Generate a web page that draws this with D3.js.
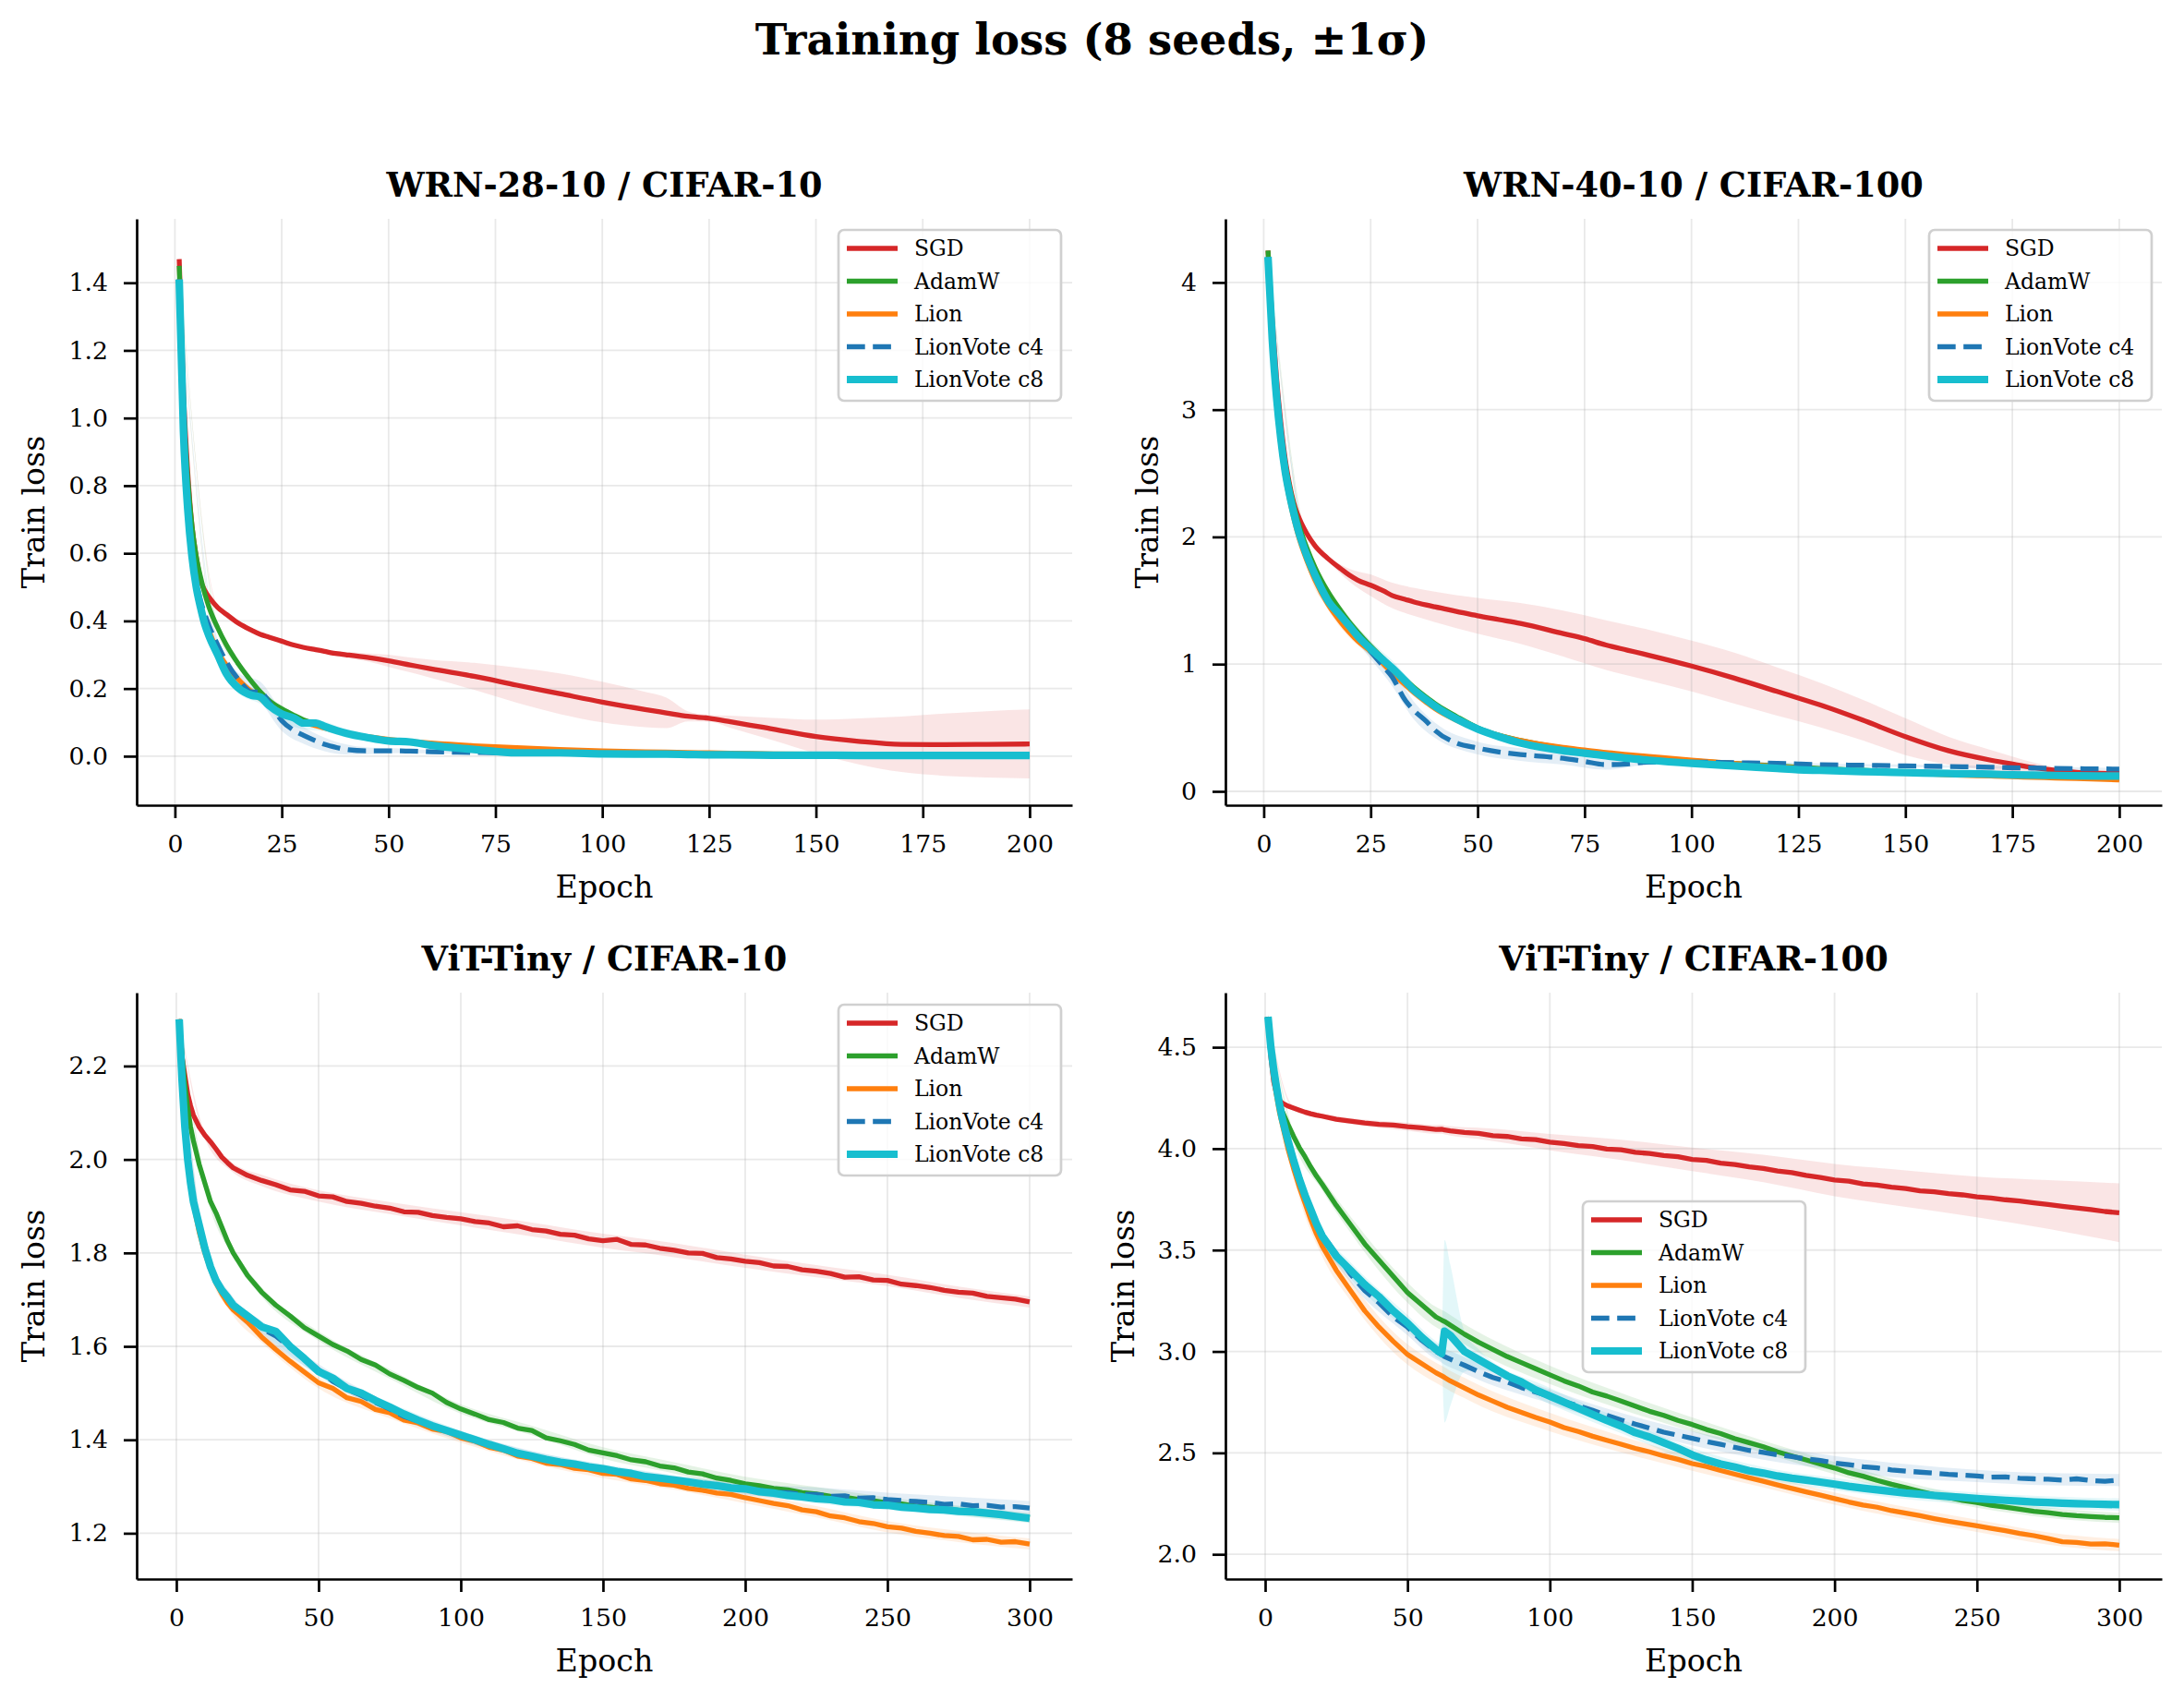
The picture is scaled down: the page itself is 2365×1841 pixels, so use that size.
<!DOCTYPE html>
<html><head><meta charset="utf-8">
<script src="https://cdn.jsdelivr.net/npm/d3@7"></script>
<style>body{margin:0;background:#fff} svg{display:block} text{font-family:"DejaVu Serif",serif;fill:#000}</style>
</head><body>
<svg id="chart" width="2365" height="1841"></svg>
<script>
// ---------------- DATA ----------------
const seriesNames = ["SGD", "AdamW", "Lion", "LionVote c4", "LionVote c8"];
const seriesColors = ["#d62728", "#2ca02c", "#ff7f0e", "#1f77b4", "#17becf"];
const panelTitles = ["WRN-28-10 / CIFAR-10", "WRN-40-10 / CIFAR-100", "ViT-Tiny / CIFAR-10", "ViT-Tiny / CIFAR-100"];
const xTicksWRN = [0, 25, 50, 75, 100, 125, 150, 175, 200];
const xTicksViT = [0, 50, 100, 150, 200, 250, 300];
const yTicksP1 = [0.0, 0.2, 0.4, 0.6, 0.8, 1.0, 1.2, 1.4];
const yTicksP2 = [0, 1, 2, 3, 4];
const yTicksP3 = [1.2, 1.4, 1.6, 1.8, 2.0, 2.2];
const yTicksP4 = [2.0, 2.5, 3.0, 3.5, 4.0, 4.5];

// Panel 1: WRN-28-10 / CIFAR-10
const p1Epochs = [1,2,3,4,5,6,7,8,10,12,15,18,20,22,25,28,30,33,35,38,40,45,50,55,60,70,80,90,100,110,115,120,125,130,140,150,160,170,180,190,200];
const p1SGD   = [1.47,1.08,0.84,0.68,0.59,0.52,0.49,0.47,0.44,0.42,0.392,0.372,0.36,0.352,0.34,0.328,0.322,0.315,0.31,0.303,0.3,0.292,0.282,0.27,0.258,0.236,0.21,0.185,0.16,0.138,0.128,0.118,0.112,0.102,0.08,0.058,0.044,0.035,0.034,0.035,0.036];
const p1AdamW = [1.45,1.04,0.82,0.68,0.59,0.53,0.48,0.44,0.38,0.33,0.27,0.22,0.19,0.165,0.14,0.12,0.108,0.095,0.087,0.077,0.07,0.057,0.047,0.04,0.034,0.025,0.019,0.015,0.012,0.01,0.009,0.008,0.007,0.007,0.006,0.005,0.004,0.004,0.003,0.003,0.003];
const p1Lion  = [1.41,0.97,0.74,0.6,0.51,0.45,0.4,0.37,0.31,0.27,0.225,0.19,0.17,0.152,0.128,0.112,0.1,0.09,0.083,0.074,0.068,0.058,0.05,0.044,0.039,0.031,0.025,0.02,0.016,0.013,0.012,0.011,0.01,0.009,0.007,0.006,0.005,0.004,0.003,0.003,0.002];
const p1C4    = [1.41,0.98,0.75,0.61,0.52,0.46,0.42,0.385,0.33,0.28,0.225,0.19,0.19,0.16,0.105,0.075,0.062,0.045,0.035,0.025,0.02,0.016,0.016,0.015,0.013,0.011,0.009,0.008,0.007,0.006,0.006,0.005,0.005,0.004,0.004,0.003,0.003,0.003,0.002,0.002,0.002];
const p1C8    = [1.41,0.96,0.73,0.59,0.5,0.44,0.39,0.355,0.3,0.245,0.2,0.18,0.175,0.15,0.125,0.112,0.098,0.098,0.088,0.075,0.068,0.055,0.045,0.042,0.032,0.02,0.01,0.01,0.007,0.006,0.006,0.005,0.004,0.004,0.003,0.003,0.002,0.002,0.002,0.002,0.002];
const p1BandEpochs = [1,10,15,20,25,30,35,40,45,50,55,60,70,80,90,100,110,115,120,125,130,140,150,160,170,180,190,200];
const p1SGDStd   = [0.005,0.005,0.005,0.005,0.005,0.005,0.005,0.008,0.012,0.018,0.022,0.027,0.04,0.052,0.06,0.06,0.052,0.045,0.015,0.01,0.018,0.033,0.05,0.068,0.082,0.092,0.098,0.102];
const p1AdamWStd = [0.005,0.01,0.01,0.01,0.01,0.008,0.006,0.005,0.004,0.004,0.003,0.003,0.003,0.002,0.002,0.002,0.002,0.002,0.002,0.002,0.002,0.002,0.002,0.002,0.002,0.002,0.002,0.002];
const p1LionStd  = [0.005,0.01,0.012,0.012,0.01,0.008,0.006,0.005,0.004,0.004,0.003,0.003,0.003,0.002,0.002,0.002,0.002,0.002,0.002,0.002,0.002,0.002,0.002,0.002,0.002,0.002,0.002,0.002];
const p1C4Std    = [0.005,0.015,0.02,0.03,0.03,0.025,0.02,0.015,0.01,0.008,0.006,0.005,0.004,0.003,0.002,0.002,0.002,0.002,0.002,0.002,0.002,0.002,0.002,0.002,0.002,0.002,0.002,0.002];
const p1C8Std    = [0.005,0.012,0.015,0.02,0.02,0.018,0.015,0.012,0.01,0.008,0.006,0.005,0.004,0.003,0.002,0.002,0.002,0.002,0.002,0.002,0.002,0.002,0.002,0.002,0.002,0.002,0.002,0.002];

// Panel 2: WRN-40-10 / CIFAR-100
const p2Epochs = [1,2,3,4,5,6,7,8,10,12,15,18,20,22,25,28,30,33,35,38,40,45,50,55,60,70,75,80,85,90,100,110,120,125,130,140,150,160,170,175,180,185,190,200];
const p2SGD   = [4.25,3.7,3.25,2.9,2.62,2.42,2.27,2.17,2.03,1.93,1.83,1.75,1.7,1.66,1.62,1.575,1.54,1.51,1.49,1.465,1.45,1.415,1.38,1.35,1.32,1.24,1.2,1.15,1.11,1.07,0.985,0.89,0.785,0.733,0.68,0.56,0.43,0.32,0.245,0.215,0.187,0.165,0.15,0.14];
const p2AdamW = [4.25,3.6,3.15,2.82,2.58,2.4,2.25,2.12,1.92,1.76,1.57,1.42,1.33,1.25,1.14,1.04,0.97,0.88,0.82,0.74,0.69,0.59,0.5,0.44,0.4,0.34,0.315,0.295,0.28,0.265,0.24,0.22,0.2,0.19,0.18,0.165,0.15,0.14,0.13,0.125,0.12,0.115,0.11,0.1];
const p2Lion  = [4.2,3.5,3.05,2.72,2.48,2.3,2.15,2.02,1.82,1.66,1.47,1.33,1.25,1.18,1.1,1.0,0.93,0.84,0.78,0.7,0.65,0.56,0.49,0.44,0.4,0.345,0.325,0.305,0.29,0.275,0.245,0.22,0.195,0.185,0.175,0.16,0.145,0.13,0.12,0.115,0.11,0.105,0.1,0.09];
const p2C4    = [4.2,3.55,3.1,2.77,2.52,2.34,2.19,2.06,1.86,1.7,1.5,1.38,1.3,1.22,1.1,0.98,0.9,0.72,0.64,0.55,0.48,0.38,0.34,0.31,0.29,0.26,0.235,0.21,0.215,0.23,0.23,0.225,0.22,0.215,0.21,0.205,0.2,0.195,0.19,0.185,0.183,0.18,0.178,0.175];
const p2C8    = [4.2,3.55,3.1,2.77,2.52,2.34,2.19,2.06,1.86,1.7,1.5,1.38,1.3,1.22,1.12,1.03,0.97,0.87,0.8,0.72,0.67,0.57,0.49,0.43,0.38,0.32,0.3,0.28,0.26,0.245,0.22,0.2,0.18,0.17,0.165,0.155,0.148,0.14,0.135,0.13,0.128,0.125,0.122,0.12];
const p2BandEpochs = [1,10,15,20,25,30,35,40,50,60,70,80,90,100,110,120,130,140,150,160,170,180,190,200];
const p2SGDStd   = [0.01,0.01,0.02,0.05,0.085,0.1,0.11,0.12,0.14,0.16,0.18,0.195,0.2,0.2,0.2,0.19,0.175,0.16,0.145,0.11,0.08,0.04,0.015,0.01];
const p2AdamWStd = [0.01,0.03,0.04,0.04,0.04,0.035,0.03,0.025,0.02,0.015,0.01,0.01,0.01,0.01,0.01,0.01,0.01,0.01,0.01,0.01,0.01,0.01,0.01,0.01];
const p2LionStd  = [0.01,0.03,0.04,0.04,0.04,0.035,0.03,0.025,0.02,0.015,0.01,0.01,0.01,0.01,0.01,0.01,0.01,0.01,0.01,0.01,0.01,0.01,0.01,0.01];
const p2C4Std    = [0.01,0.03,0.04,0.05,0.06,0.07,0.07,0.06,0.05,0.05,0.05,0.04,0.02,0.015,0.01,0.01,0.01,0.01,0.01,0.01,0.01,0.01,0.01,0.01];
const p2C8Std    = [0.01,0.03,0.05,0.06,0.06,0.06,0.05,0.04,0.03,0.02,0.015,0.01,0.01,0.01,0.01,0.01,0.01,0.01,0.01,0.01,0.01,0.01,0.01,0.01];

// Panel 3: ViT-Tiny / CIFAR-10
const p3Epochs = [1,2,3,4,5,6,8,10,12,14,16,18,20,25,30,35,40,45,50,55,60,65,70,75,80,85,90,95,100,105,110,115,120,125,130,135,140,145,150,155,160,165,170,175,180,185,190,195,200,205,210,215,220,225,230,235,240,245,250,255,260,265,270,275,280,285,290,295,300];
const p3SGD   = [2.30,2.22,2.18,2.14,2.115,2.095,2.07,2.052,2.038,2.022,2.005,1.993,1.982,
  1.966,1.955,1.946,1.935,1.932,1.922,1.92,1.91,1.906,1.9,1.896,1.888,1.887,1.88,1.876,1.873,1.867,1.864,1.856,1.858,1.85,1.847,1.84,1.838,1.83,1.826,1.829,1.818,1.817,1.81,1.806,1.8,1.799,1.79,1.787,1.782,1.779,1.772,1.771,1.764,1.761,1.756,1.748,1.749,1.742,1.741,1.733,1.73,1.726,1.72,1.716,1.714,1.707,1.704,1.701,1.695];
const p3AdamW = [2.30,2.22,2.16,2.11,2.07,2.04,1.99,1.95,1.91,1.885,1.855,1.825,1.80,
  1.752,1.716,1.688,1.665,1.64,1.622,1.604,1.59,1.572,1.56,1.541,1.527,1.512,1.5,1.48,1.466,1.455,1.443,1.437,1.425,1.42,1.404,1.398,1.39,1.378,1.372,1.366,1.357,1.353,1.344,1.34,1.331,1.327,1.318,1.313,1.306,1.302,1.296,1.293,1.287,1.284,1.279,1.277,1.272,1.27,1.265,1.263,1.258,1.256,1.252,1.249,1.245,1.243,1.239,1.237,1.233];
const p3Lion  = [2.30,2.17,2.07,2.0,1.945,1.905,1.845,1.8,1.765,1.735,1.712,1.693,1.678,
  1.652,1.62,1.593,1.568,1.545,1.522,1.51,1.49,1.482,1.465,1.458,1.442,1.436,1.423,1.418,1.404,1.397,1.384,1.378,1.365,1.36,1.35,1.347,1.339,1.336,1.328,1.326,1.316,1.313,1.306,1.303,1.296,1.292,1.286,1.283,1.276,1.27,1.264,1.259,1.25,1.246,1.237,1.233,1.225,1.221,1.214,1.211,1.204,1.2,1.195,1.193,1.186,1.187,1.181,1.182,1.177];
const p3C4    = [2.30,2.17,2.07,2.0,1.95,1.91,1.86,1.815,1.765,1.74,1.722,1.705,1.69,
  1.668,1.638,1.622,1.598,1.575,1.55,1.525,1.508,1.495,1.48,1.466,1.45,1.44,1.428,1.42,1.408,1.398,1.388,1.382,1.37,1.366,1.357,1.353,1.346,1.343,1.336,1.333,1.326,1.322,1.316,1.313,1.308,1.305,1.3,1.298,1.294,1.292,1.288,1.287,1.283,1.283,1.279,1.28,1.275,1.276,1.272,1.27,1.268,1.266,1.262,1.263,1.259,1.26,1.256,1.257,1.254];
const p3C8    = [2.30,2.17,2.07,2.0,1.95,1.91,1.86,1.81,1.77,1.74,1.72,1.705,1.688,
  1.665,1.642,1.632,1.6,1.574,1.546,1.532,1.51,1.5,1.484,1.47,1.455,1.442,1.43,1.42,1.41,1.4,1.39,1.381,1.371,1.365,1.358,1.352,1.348,1.342,1.338,1.332,1.328,1.321,1.318,1.314,1.31,1.305,1.302,1.297,1.295,1.289,1.286,1.281,1.278,1.274,1.272,1.267,1.266,1.261,1.26,1.256,1.254,1.251,1.25,1.247,1.246,1.243,1.24,1.236,1.232];
const p3BandEpochs = [1,10,20,30,50,75,100,125,150,175,200,225,250,275,300];
const p3SGDStd   = [0.005,0.008,0.01,0.012,0.012,0.013,0.014,0.015,0.015,0.015,0.014,0.013,0.012,0.012,0.012];
const p3AdamWStd = [0.005,0.01,0.01,0.01,0.01,0.01,0.01,0.01,0.012,0.012,0.015,0.015,0.012,0.01,0.01];
const p3LionStd  = [0.005,0.01,0.012,0.012,0.012,0.012,0.01,0.01,0.01,0.01,0.012,0.012,0.012,0.012,0.012];
const p3C4Std    = [0.005,0.012,0.015,0.015,0.012,0.012,0.01,0.01,0.01,0.01,0.012,0.015,0.015,0.015,0.015];
const p3C8Std    = [0.005,0.01,0.012,0.012,0.01,0.01,0.01,0.01,0.01,0.01,0.01,0.01,0.01,0.01,0.01];

// Panel 4: ViT-Tiny / CIFAR-100
const p4Epochs = [1,2,3,4,5,6,8,10,12,14,16,18,20,25,30,35,40,45,50,55,60,62,63,65,70,75,80,85,90,95,100,105,110,115,120,125,130,135,140,145,150,155,160,165,170,175,180,185,190,195,200,205,210,215,220,225,230,235,240,245,250,255,260,265,270,275,280,285,290,295,300];
const p4SGD   = [4.65,4.45,4.33,4.27,4.24,4.225,4.21,4.2,4.19,4.18,4.172,4.165,4.16,
  4.145,4.136,4.127,4.12,4.116,4.108,4.103,4.095,4.096,4.092,4.088,4.08,4.075,4.064,4.06,4.048,4.045,4.032,4.025,4.015,4.01,3.998,3.994,3.982,3.976,3.966,3.96,3.947,3.942,3.928,3.922,3.91,3.902,3.89,3.882,3.868,3.858,3.845,3.84,3.826,3.82,3.81,3.803,3.792,3.787,3.778,3.772,3.762,3.757,3.748,3.742,3.733,3.725,3.716,3.708,3.7,3.69,3.684];
const p4AdamW = [4.65,4.5,4.38,4.3,4.24,4.185,4.12,4.06,4.005,3.96,3.91,3.865,3.825,
  3.72,3.625,3.53,3.45,3.37,3.29,3.23,3.17,3.155,3.148,3.13,3.085,3.045,3.01,2.975,2.945,2.915,2.885,2.855,2.83,2.8,2.78,2.755,2.73,2.705,2.685,2.66,2.64,2.615,2.595,2.57,2.55,2.53,2.505,2.485,2.465,2.445,2.425,2.402,2.385,2.364,2.345,2.328,2.31,2.294,2.28,2.265,2.255,2.242,2.232,2.222,2.212,2.205,2.196,2.19,2.186,2.182,2.18];
const p4Lion  = [4.65,4.47,4.35,4.26,4.18,4.12,4.0,3.9,3.81,3.73,3.65,3.58,3.52,
  3.4,3.3,3.2,3.12,3.05,2.985,2.94,2.895,2.88,2.872,2.855,2.82,2.785,2.755,2.725,2.7,2.675,2.652,2.625,2.605,2.582,2.562,2.543,2.522,2.505,2.485,2.468,2.447,2.433,2.413,2.395,2.377,2.36,2.342,2.325,2.308,2.292,2.275,2.258,2.243,2.232,2.215,2.203,2.19,2.176,2.163,2.152,2.14,2.128,2.116,2.103,2.092,2.078,2.062,2.058,2.05,2.052,2.045];
const p4C4    = [4.65,4.5,4.39,4.3,4.22,4.15,4.05,3.95,3.86,3.78,3.7,3.63,3.58,
  3.48,3.38,3.3,3.24,3.17,3.12,3.055,3.0,2.985,2.975,2.962,2.932,2.9,2.872,2.85,2.822,2.8,2.778,2.752,2.732,2.71,2.685,2.662,2.642,2.622,2.602,2.587,2.572,2.556,2.542,2.527,2.512,2.502,2.49,2.482,2.47,2.462,2.45,2.442,2.432,2.426,2.416,2.41,2.405,2.4,2.394,2.39,2.386,2.38,2.382,2.375,2.372,2.37,2.366,2.372,2.364,2.36,2.366];
const p4C8    = [4.65,4.5,4.39,4.3,4.22,4.15,4.04,3.94,3.85,3.77,3.7,3.63,3.57,
  3.47,3.4,3.33,3.27,3.2,3.14,3.07,3.01,2.99,3.1,3.08,3.0,2.96,2.92,2.88,2.85,2.81,2.78,2.75,2.72,2.69,2.66,2.632,2.6,2.578,2.55,2.522,2.49,2.465,2.445,2.43,2.412,2.4,2.386,2.375,2.366,2.356,2.346,2.335,2.326,2.318,2.31,2.302,2.296,2.29,2.285,2.28,2.275,2.27,2.266,2.262,2.258,2.255,2.252,2.25,2.248,2.246,2.245];
const p4BandEpochs = [1,10,20,30,50,60,62,63,65,70,75,100,125,150,175,200,225,250,275,300];
const p4SGDStd   = [0.01,0.01,0.012,0.015,0.02,0.022,0.022,0.022,0.023,0.025,0.028,0.04,0.05,0.058,0.068,0.08,0.09,0.1,0.12,0.145];
const p4AdamWStd = [0.01,0.02,0.03,0.04,0.05,0.05,0.05,0.05,0.05,0.05,0.05,0.045,0.04,0.035,0.03,0.03,0.028,0.025,0.025,0.025];
const p4LionStd  = [0.01,0.03,0.05,0.05,0.05,0.05,0.05,0.05,0.05,0.05,0.05,0.045,0.04,0.035,0.03,0.03,0.03,0.03,0.03,0.03];
const p4C4Std    = [0.01,0.02,0.03,0.04,0.04,0.04,0.04,0.04,0.04,0.04,0.04,0.035,0.035,0.035,0.035,0.035,0.035,0.03,0.03,0.03];
const p4C8Std    = [0.01,0.02,0.03,0.04,0.04,0.04,0.04,0.45,0.35,0.1,0.05,0.04,0.035,0.035,0.03,0.03,0.03,0.03,0.03,0.03];

// ---------------- PANEL TABLE (built from the arrays above) ----------------
const panels = [
  {title: panelTitles[0], epochs: p1Epochs, means: [p1SGD,p1AdamW,p1Lion,p1C4,p1C8], bandEpochs: p1BandEpochs, stds: [p1SGDStd,p1AdamWStd,p1LionStd,p1C4Std,p1C8Std], xTicks: xTicksWRN, yTicks: yTicksP1, xDom: [-8.95, 209.95], yDom: [-0.145, 1.589], fmt: d3.format(".1f"), smooth: true},
  {title: panelTitles[1], epochs: p2Epochs, means: [p2SGD,p2AdamW,p2Lion,p2C4,p2C8], bandEpochs: p2BandEpochs, stds: [p2SGDStd,p2AdamWStd,p2LionStd,p2C4Std,p2C8Std], xTicks: xTicksWRN, yTicks: yTicksP2, xDom: [-8.95, 209.95], yDom: [-0.109, 4.50], fmt: d3.format("d"), smooth: true},
  {title: panelTitles[2], epochs: p3Epochs, means: [p3SGD,p3AdamW,p3Lion,p3C4,p3C8], bandEpochs: p3BandEpochs, stds: [p3SGDStd,p3AdamWStd,p3LionStd,p3C4Std,p3C8Std], xTicks: xTicksViT, yTicks: yTicksP3, xDom: [-13.95, 314.95], yDom: [1.102, 2.357], fmt: d3.format(".1f"), smooth: false},
  {title: panelTitles[3], epochs: p4Epochs, means: [p4SGD,p4AdamW,p4Lion,p4C4,p4C8], bandEpochs: p4BandEpochs, stds: [p4SGDStd,p4AdamWStd,p4LionStd,p4C4Std,p4C8Std], xTicks: xTicksViT, yTicks: yTicksP4, xDom: [-13.95, 314.95], yDom: [1.878, 4.769], fmt: d3.format(".1f"), smooth: false}
];

// ---------------- LAYOUT ----------------
const W = 2365, H = 1841;
const rects = [
  {x: 148, y: 237, w: 1013, h: 635, ylabX: 48},
  {x: 1327, y: 237, w: 1014, h: 635, ylabX: 1254},
  {x: 148, y: 1075, w: 1013, h: 635, ylabX: 48},
  {x: 1327, y: 1075, w: 1014, h: 635, ylabX: 1228}
];
const legendPos = [{x: 908, y: 249}, {x: 2089, y: 249}, {x: 908, y: 1088}, {x: 1714, y: 1301}];
const LW = [5.3, 5.3, 5.3, 5.3, 8.2];
const DASH = [null, null, null, "19.7,8.5", null];
const BAND_OP = 0.12;

const svg = d3.select("#chart");
svg.append("rect").attr("width", W).attr("height", H).attr("fill", "#fff");

svg.append("text").attr("x", 1182.5).attr("y", 59).attr("text-anchor", "middle")
  .attr("font-size", 46.5).attr("font-weight", "bold").text("Training loss (8 seeds, \u00b11\u03c3)");

panels.forEach((p, pi) => {
  const r = rects[pi];
  const x = d3.scaleLinear().domain(p.xDom).range([r.x, r.x + r.w]);
  const y = d3.scaleLinear().domain(p.yDom).range([r.y + r.h, r.y]);
  const g = svg.append("g");
  const clipId = "clip" + pi;
  svg.append("clipPath").attr("id", clipId).append("rect")
    .attr("x", r.x).attr("y", r.y).attr("width", r.w).attr("height", r.h);
  const plot = g.append("g").attr("clip-path", `url(#${clipId})`);

  // bands
  p.means.forEach((m, si) => {
    const std = p.stds[si];
    const pts = p.bandEpochs.map((e, k) => {
      const idx = p.epochs.indexOf(e);
      return {e: e, lo: m[idx] - std[k], hi: m[idx] + std[k]};
    });
    const area = d3.area().x(d => x(d.e)).y0(d => y(d.lo)).y1(d => y(d.hi)).curve(d3.curveMonotoneX);
    plot.append("path").attr("d", area(pts)).attr("fill", seriesColors[si]).attr("fill-opacity", BAND_OP).attr("stroke", "none");
  });

  // grid
  const grid = plot.append("g").attr("stroke", "#b0b0b0").attr("stroke-opacity", 0.28).attr("stroke-width", 1.8);
  p.xTicks.forEach(t => grid.append("line").attr("x1", x(t)).attr("x2", x(t)).attr("y1", r.y).attr("y2", r.y + r.h));
  p.yTicks.forEach(t => grid.append("line").attr("y1", y(t)).attr("y2", y(t)).attr("x1", r.x).attr("x2", r.x + r.w));

  // lines
  p.means.forEach((m, si) => {
    const line = d3.line().x((d, k) => x(p.epochs[k])).y(d => y(d)).curve(p.smooth ? d3.curveMonotoneX : d3.curveLinear);
    const path = plot.append("path").attr("d", line(m)).attr("fill", "none")
      .attr("stroke", seriesColors[si]).attr("stroke-width", LW[si]).attr("stroke-linejoin", "round");
    if (DASH[si]) path.attr("stroke-dasharray", DASH[si]);
  });

  // axes
  const ax = g.append("g").attr("transform", `translate(0,${r.y + r.h})`)
    .call(d3.axisBottom(x).tickValues(p.xTicks).tickFormat(d3.format("d")).tickSize(14).tickSizeOuter(0).tickPadding(18));
  const ay = g.append("g").attr("transform", `translate(${r.x},0)`)
    .call(d3.axisLeft(y).tickValues(p.yTicks).tickFormat(p.fmt).tickSize(14).tickSizeOuter(0).tickPadding(17));
  [ax, ay].forEach(a => {
    a.select(".domain").attr("stroke", "#000").attr("stroke-width", 2.7);
    a.selectAll(".tick line").attr("stroke", "#000").attr("stroke-width", 2.7);
    a.selectAll(".tick text").attr("font-size", 26.7).attr("font-family", "DejaVu Serif").attr("fill", "#000");
  });

  // titles & labels
  g.append("text").attr("x", r.x + r.w / 2).attr("y", r.y - 24).attr("text-anchor", "middle")
    .attr("font-size", 36.7).attr("font-weight", "bold").text(p.title);
  g.append("text").attr("x", r.x + r.w / 2).attr("y", r.y + r.h + 100).attr("text-anchor", "middle")
    .attr("font-size", 33.3).text("Epoch");
  g.append("text").attr("transform", `translate(${r.ylabX},${r.y + r.h / 2}) rotate(-90)`).attr("text-anchor", "middle")
    .attr("font-size", 33.3).text("Train loss");

  // legend
  const lp = legendPos[pi];
  const lg = g.append("g").attr("transform", `translate(${lp.x},${lp.y})`);
  lg.append("rect").attr("x", 0).attr("y", 0).attr("width", 241).attr("height", 185).attr("rx", 6)
    .attr("fill", "#fff").attr("fill-opacity", 0.8).attr("stroke", "#d0d0d0").attr("stroke-width", 2.7);
  seriesNames.forEach((nm, si) => {
    const yy = 20 + si * 35.5;
    const l = lg.append("line").attr("x1", 9).attr("x2", 64).attr("y1", yy).attr("y2", yy)
      .attr("stroke", seriesColors[si]).attr("stroke-width", LW[si]);
    if (DASH[si]) l.attr("stroke-dasharray", DASH[si]);
    lg.append("text").attr("x", 82).attr("y", yy).attr("dy", "0.36em").attr("font-size", 23.5).text(nm);
  });
});
</script>
</body></html>
